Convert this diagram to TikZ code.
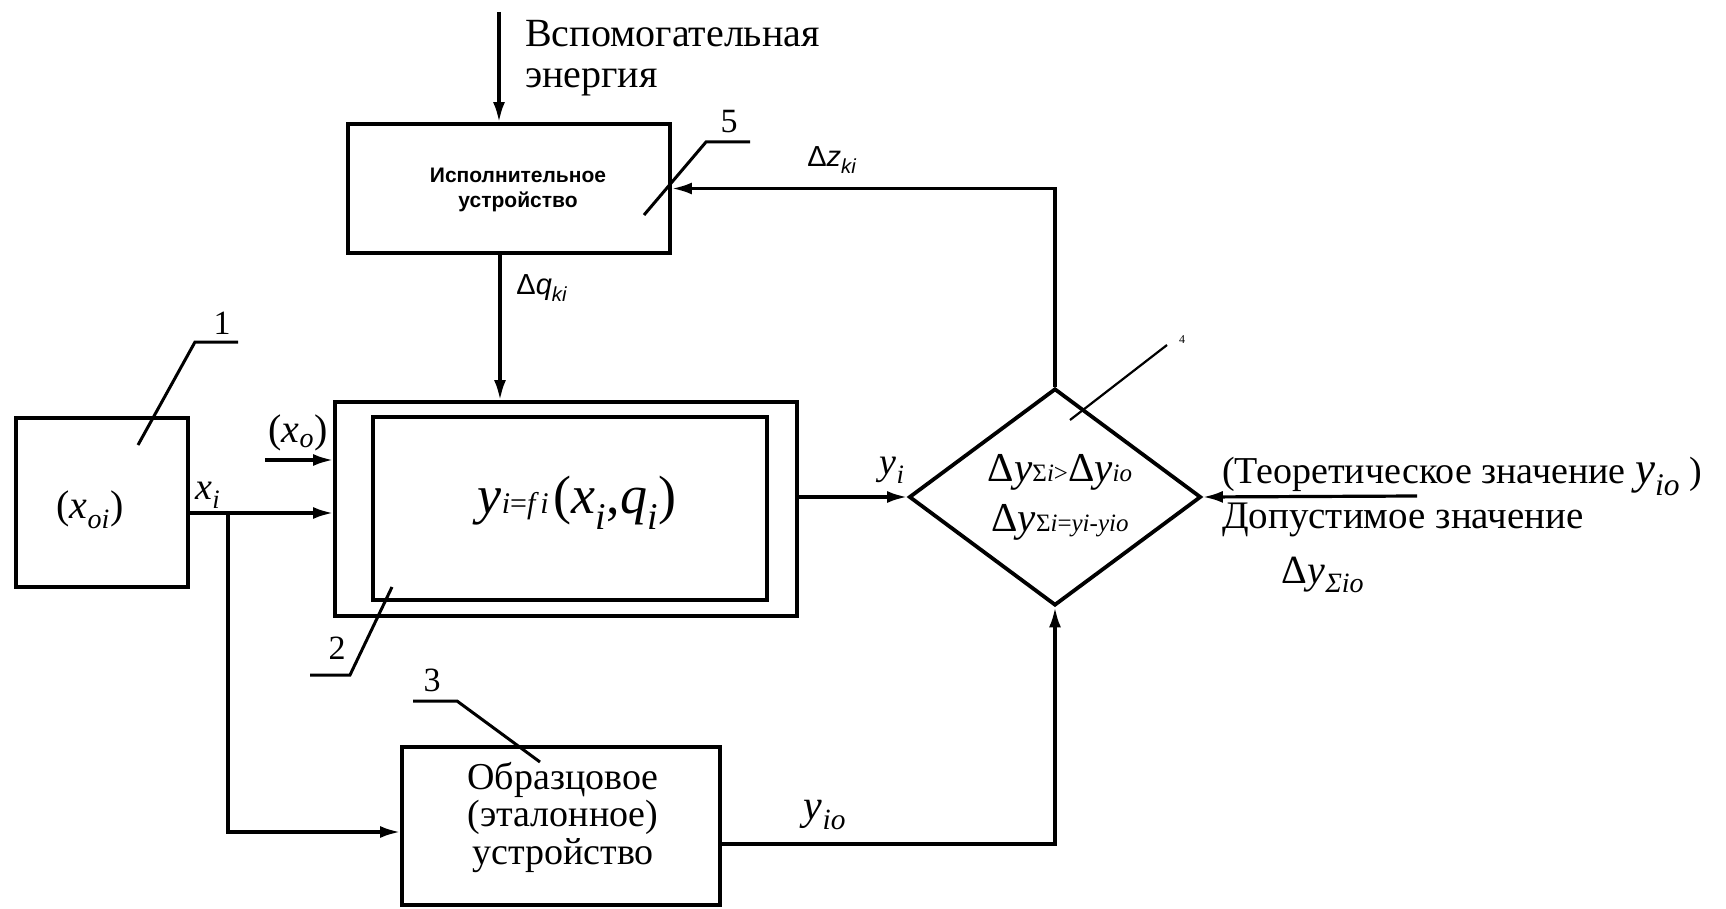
\documentclass[tikz,border=0pt]{standalone}
\usepackage{fontspec}
\setmainfont{Liberation Serif}
\setsansfont{Liberation Sans}
\usepackage{tikz}
\usetikzlibrary{arrows.meta,shapes.geometric,positioning}

\newcommand{\ix}[2]{\textit{#1}\textsubscript{\textit{#2}}}
\newcommand{\fs}[1]{\fontsize{#1}{#1}\selectfont}

\tikzset{
  blk/.style={draw, line width=3.8pt, inner sep=0pt},
  flow/.style={line width=3.2pt, -{Latex[length=20pt,width=12pt]}},
  lead/.style={line width=3pt},
  txt/.style={inner sep=0pt, font=\fs{38}},
  num/.style={inner sep=0pt, font=\fs{34}},
  sfl/.style={inner sep=0pt, font=\sffamily\fs{29}},
}

\begin{document}
\begin{tikzpicture}[x=1pt,y=-1pt]
      \useasboundingbox (0,0) rectangle (1726,909);
      \fill[white] (0,0) rectangle (1726,909);
      % Block 1
      \node[blk, minimum width=172pt, minimum height=169pt] (src) at (102,502.5) {};
      \node[txt, font=\fs{40}] (srctxt) at (90,510) {(\ix{x}{oi})};
      \node[num] (n1) at (222,323) {1};
      \draw[lead] (238,342) -- (195,342) -- (138,445);

      % Block 5
      \node[blk, minimum width=322pt, minimum height=129pt] (act) at (509,188.5) {};
      \node[inner sep=0pt, align=center, font=\sffamily\bfseries\fontsize{21}{25}\selectfont] (acttxt) at (518,190) {Исполнительное\\устройство};
      \node[num] (n5) at (729,122) {5};
      \draw[lead] (750,142) -- (706,142) -- (644,215);
      \coordinate (pwr) at (499,12);
      \draw[flow] (pwr) -- (pwr |- act.north);
      \node[txt, font=\fs{40}, anchor=base west] (pwr1) at (525,47) {Вспомогательная};
      \node[txt, font=\fs{40}, anchor=base west] (pwr2) at (525,88) {энергия};

      % Block 2
      \node[blk, minimum width=462pt, minimum height=214pt] (plant) at (566,509) {};
      \node[blk, minimum width=394pt, minimum height=183pt] (model) at (570,508.5) {};
      \node[txt] (law) at (577,503) {{\fs{54}\textit{y}}{\fs{30}\textit{i}=\textit{f\,i}\,}{\fs{54}(\textit{x}\textsubscript{\textit{i}},\textit{q}\textsubscript{\textit{i}})}};
      \node[num] (n2) at (337,648) {2};
      \draw[lead] (310,675) -- (350,675) -- (392,587);
      \coordinate (dq) at (500,0);
      \draw[flow] (dq |- act.south) -- (dq |- plant.north);
      \node[sfl] (dqlbl) at (542,288) {Δ\textit{q}\textsubscript{\textit{ki}}};

      % Inputs of block 2
      \coordinate (xi) at (228,513);
      \draw[flow] (src.east |- xi) -- (plant.west |- xi);
      \node[txt] (xilbl) at (208,495) {\ix{x}{i}};
      \coordinate (xoin) at (265,460);
      \draw[flow] (xoin) -- (plant.west |- xoin);
      \node[txt, font=\fs{40}] (xolbl) at (298,433) {(\ix{x}{o})};

      % Block 3
      \node[blk, minimum width=318pt, minimum height=158pt] (ref) at (561,826) {};
      \node[txt, font=\fs{38}, anchor=base] (ref1) at (563,789) {Образцовое};
      \node[txt, font=\fs{38}, anchor=base] (ref2) at (563,826) {(эталонное)};
      \node[txt, font=\fs{38}, anchor=base] (ref3) at (563,864) {устройство};
      \node[num] (n3) at (432,680) {3};
      \draw[lead] (413,701) -- (457,701) -- (540,762);
      \coordinate (xr) at (228,832);
      \draw[flow] (xi) -- (xr) -- (ref.west |- xr);

      % Block 4
      \node[diamond, draw, line width=3.8pt, inner sep=0pt, minimum width=292pt, minimum height=217pt] (cmp) at (1055,497) {};
      \node[txt] (cmp1) at (1060,472) {{\fs{41}Δ\textit{y}}{\fs{25}Σ\textit{i}>}{\fs{41}Δ\textit{y}}{\fs{25}\textit{io}}};
      \node[txt] (cmp2) at (1060,522) {{\fs{41}Δ\textit{y}}{\fs{25}Σ\textit{i}=\textit{yi}-\textit{yio}}};
      \draw[line width=2.2pt] (1070,420) -- (1167,345);
      \node[inner sep=0pt, font=\fs{12}] (n4) at (1182,340) {4};
      \draw[flow] (plant.east |- cmp.west) -- (cmp.west);
      \node[txt] (yilbl) at (892,470) {\ix{y}{i}};
      \coordinate (yo) at (1055,844);
      \draw[flow] (ref.east |- yo) -- (yo) -- (cmp.south);
      \node[txt, font=\fs{42}] (yolbl) at (825,815) {\ix{y}{io}};
      \draw[flow] (cmp.north) |- (act.east);
      \node[sfl] (dzlbl) at (832,160) {Δ\textit{z}\textsubscript{\textit{ki}}};

      % Right inputs
      \coordinate (tol) at (1417,496);
      \draw[flow] (tol) -- (cmp.east);
      \node[txt, anchor=base west] (theo) at (1222,483) {(Теоретическое значение {\fs{45}\ix{y}{io}} )};
      \node[txt, font=\fs{39}, anchor=base west] (adm) at (1222,528) {Допустимое значение};
      \node[txt, font=\fs{40}, anchor=base] (dtol) at (1323,583) {Δ\ix{y}{Σio}};
\end{tikzpicture}
\end{document}
